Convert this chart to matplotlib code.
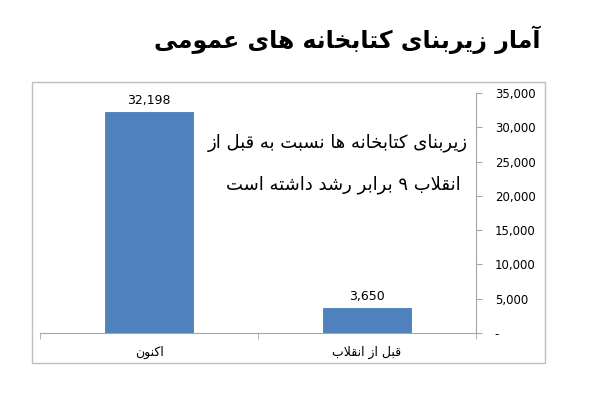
import matplotlib
matplotlib.use('Agg')
import matplotlib.pyplot as plt
from matplotlib.patches import Rectangle
from matplotlib.ticker import FuncFormatter

# داده ها
categories = ['اکنون', 'قبل از انقلاب']
values = [32198, 3650]
title = 'آمار زیربنای کتابخانه های عمومی'
note_lines = ['زیربنای کتابخانه ها نسبت به قبل از', 'انقلاب ۹ برابر رشد داشته است']
y_ticks = [0, 5000, 10000, 15000, 20000, 25000, 30000, 35000]

# matplotlib حروف فارسی را نمی چسباند، پس خودمان شکل ها را انتخاب می کنیم
# (isolated, final, initial, medial)
FORMS = {
    'ا': (0xFE8D, 0xFE8E, None, None),
    'آ': (0xFE81, 0xFE82, None, None),
    'ب': (0xFE8F, 0xFE90, 0xFE91, 0xFE92),
    'ت': (0xFE95, 0xFE96, 0xFE97, 0xFE98),
    'خ': (0xFEA5, 0xFEA6, 0xFEA7, 0xFEA8),
    'د': (0xFEA9, 0xFEAA, None, None),
    'ر': (0xFEAD, 0xFEAE, None, None),
    'ز': (0xFEAF, 0xFEB0, None, None),
    'س': (0xFEB1, 0xFEB2, 0xFEB3, 0xFEB4),
    'ش': (0xFEB5, 0xFEB6, 0xFEB7, 0xFEB8),
    'ع': (0xFEC9, 0xFECA, 0xFECB, 0xFECC),
    'ق': (0xFED5, 0xFED6, 0xFED7, 0xFED8),
    'ل': (0xFEDD, 0xFEDE, 0xFEDF, 0xFEE0),
    'م': (0xFEE1, 0xFEE2, 0xFEE3, 0xFEE4),
    'ن': (0xFEE5, 0xFEE6, 0xFEE7, 0xFEE8),
    'ه': (0xFEE9, 0xFEEA, 0xFEEB, 0xFEEC),
    'و': (0xFEED, 0xFEEE, None, None),
    'ک': (0xFB8E, 0xFB8F, 0xFB90, 0xFB91),
    'ی': (0xFBFC, 0xFBFD, 0xFBFE, 0xFBFF),
}


def joins_next(ch):
    return ch in FORMS and FORMS[ch][2] is not None


def shape(text):
    # لام-الف
    text = text.replace('لا', '\uE000')
    out = []
    n = len(text)
    for i, ch in enumerate(text):
        prev = text[i - 1] if i > 0 else ''
        nxt = text[i + 1] if i < n - 1 else ''
        conn_prev = joins_next(prev)
        if ch == '\uE000':
            out.append(chr(0xFEFC if conn_prev else 0xFEFB))
            continue
        if ch not in FORMS:
            out.append(ch)
            continue
        iso, fin, ini, med = FORMS[ch]
        conn_next = ini is not None and (nxt in FORMS or nxt == '\uE000')
        if conn_prev and conn_next:
            out.append(chr(med))
        elif conn_prev:
            out.append(chr(fin))
        elif conn_next:
            out.append(chr(ini))
        else:
            out.append(chr(iso))
    return ''.join(out)[::-1]


plt.rcParams['font.family'] = ['DejaVu Sans']

fig = plt.figure(figsize=(6, 4), dpi=100)
fig.patches.append(Rectangle((32 / 600, 1 - 363 / 400), (545 - 32) / 600, (363 - 82) / 400,
                             transform=fig.transFigure, fill=False,
                             edgecolor='#BFBFBF', linewidth=1))

ax = fig.add_axes([40 / 600, 1 - 333 / 400, (476 - 40) / 600, (333 - 93) / 400])
x = range(len(categories))
bars = ax.bar(x, values, width=0.4, color='#4F81BD', edgecolor='#4A7EBB', linewidth=0.6)
for b, v in zip(bars, values):
    ax.text(b.get_x() + b.get_width() / 2, v + 700, f'{v:,}', ha='center', va='bottom', fontsize=9)

ax.set_xlim(-0.5, len(categories) - 0.5)
ax.set_ylim(0, 35000)
ax.set_yticks(y_ticks)
ax.yaxis.set_major_formatter(FuncFormatter(lambda v, p: '-' if v == 0 else f'{int(v):,}'))
ax.yaxis.tick_right()
ax.tick_params(axis='y', direction='out', length=4, color='#A6A6A6', labelsize=8.5, pad=9.5)

ax.set_xticks(list(x))
ax.set_xticklabels([shape(c) for c in categories], fontsize=9)
ax.set_xticks([-0.5, 0.5, 1.5], minor=True)
ax.tick_params(axis='x', which='major', length=0, pad=9)
ax.tick_params(axis='x', which='minor', length=4, color='#A6A6A6')

for s in ['top', 'left']:
    ax.spines[s].set_visible(False)
for s in ['right', 'bottom']:
    ax.spines[s].set_color('#A6A6A6')

fig.text(540 / 600, 1 - 40 / 400, shape(title), ha='right', va='center',
         fontsize=17, fontweight='bold')
fig.text(338 / 600, 1 - 143 / 400, shape(note_lines[0]), ha='center', va='center', fontsize=13)
fig.text(343 / 600, 1 - 185 / 400, shape(note_lines[1]), ha='center', va='center', fontsize=13)

fig.savefig('out.png', dpi=100)
